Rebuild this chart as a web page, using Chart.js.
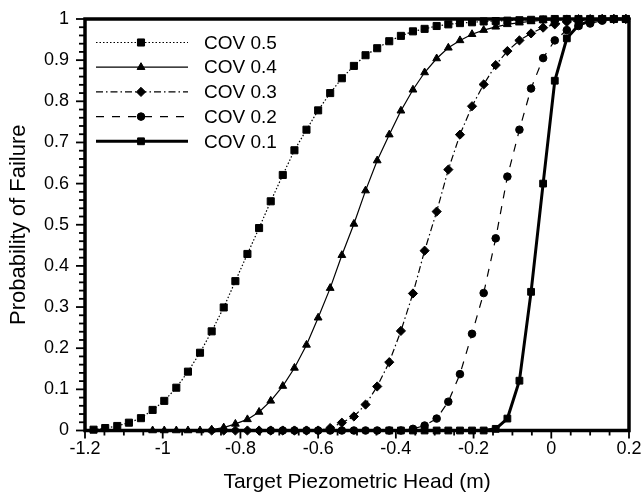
<!DOCTYPE html>
<html><head><meta charset="utf-8">
<script src="https://cdn.jsdelivr.net/npm/chart.js@4/dist/chart.umd.min.js"></script>
<style>html,body{margin:0;padding:0;background:#fff}</style>
</head><body>
<canvas id="c" width="644" height="493" style="display:block;width:644px;height:493px"></canvas>
<script>
// ---- data ----
const headX = [-1.178,-1.148,-1.117,-1.087,-1.056,-1.026,-0.996,-0.965,-0.935,-0.904,-0.874,-0.843,-0.813,-0.782,-0.752,-0.722,-0.691,-0.661,-0.630,-0.600,-0.569,-0.539,-0.508,-0.478,-0.448,-0.417,-0.387,-0.356,-0.326,-0.295,-0.265,-0.235,-0.204,-0.174,-0.143,-0.113,-0.082,-0.052,-0.021,0.009,0.040,0.070,0.100,0.131,0.161,0.192];
const cov05 = [0.002,0.006,0.011,0.019,0.030,0.050,0.072,0.104,0.143,0.189,0.241,0.299,0.363,0.429,0.492,0.557,0.621,0.681,0.731,0.778,0.820,0.856,0.886,0.912,0.929,0.946,0.959,0.970,0.976,0.983,0.987,0.990,0.992,0.994,0.995,0.996,0.997,0.998,0.999,1,1,1,1,1,1,1];
const cov04 = [null,null,null,null,null,0,0,0,0,0,0.002,0.007,0.016,0.027,0.045,0.072,0.108,0.152,0.208,0.274,0.346,0.426,0.502,0.583,0.656,0.719,0.777,0.828,0.870,0.904,0.930,0.948,0.963,0.973,0.981,0.987,0.991,0.994,0.997,0.998,0.999,1,1,1,1,1];
const cov03 = [null,null,null,null,null,null,null,null,null,null,0,0,0,0,0,0,0,0,0,0,0.006,0.019,0.034,0.063,0.107,0.166,0.242,0.333,0.437,0.532,0.634,0.719,0.788,0.841,0.888,0.922,0.948,0.965,0.979,0.987,0.993,0.996,0.998,1,1,1];
const cov02 = [null,null,null,null,null,null,null,null,null,null,null,null,null,null,null,0,0,0,0,0,0,0,0,0,0,0,0,0.004,0.012,0.029,0.070,0.137,0.235,0.334,0.467,0.617,0.731,0.831,0.905,0.948,0.973,0.983,0.989,0.996,1,1];
const cov01 = [null,null,null,null,null,null,null,null,null,null,null,null,null,null,null,null,null,null,null,null,null,null,null,null,null,0,0,0,0,0,0,0,0,0,0.004,0.029,0.121,0.337,0.600,0.850,0.953,0.985,0.995,1,1,1];
const seriesLabels = ['COV 0.5','COV 0.4','COV 0.3','COV 0.2','COV 0.1'];
const xTickValues = [-1.2,-1,-0.8,-0.6,-0.4,-0.2,0,0.2];
const yTickValues = [0,0.1,0.2,0.3,0.4,0.5,0.6,0.7,0.8,0.9,1];

function pts(ys){ const out=[]; ys.forEach((y,i)=>{ if(y!==null) out.push({x:headX[i], y:y}); }); return out; }

const FONT = '"Liberation Sans", Arial, Helvetica, sans-serif';
const styles = [
  {dash:[1.5,2], w:1.2, ps:'rect', r:5},
  {dash:[], w:1.2, ps:'triangle', r:4.5},
  {dash:[7,3,1.5,3], w:1.2, ps:'rectRot', r:4.6},
  {dash:[8,8], w:1.2, ps:'circle', r:3.8},
  {dash:[], w:3, ps:'rect', r:4.8}
];
const allY = [cov05,cov04,cov03,cov02,cov01];
const datasets = allY.map((ys,i)=>({
  label: seriesLabels[i],
  data: pts(ys),
  borderColor:'#000', backgroundColor:'#000',
  borderWidth: styles[i].w, borderDash: styles[i].dash,
  pointStyle: styles[i].ps, pointRadius: styles[i].r, pointHoverRadius: styles[i].r,
  pointBackgroundColor:'#000', pointBorderColor:'#000', pointBorderWidth:1,
  tension:0, clip:false, fill:false
}));

const decor = {
  id:'decor',
  beforeDatasetsDraw(chart){
    const ctx=chart.ctx, a=chart.chartArea, xs=chart.scales.x, ys=chart.scales.y;
    ctx.save();
    ctx.strokeStyle='#000'; ctx.setLineDash([]);
    // minor + major ticks
    ctx.lineWidth=1.8;
    for(let v=0; v<=1.0001; v+=0.02){
      const p=ys.getPixelForValue(v);
      const major = Math.abs(Math.round(v*10)-v*10)<1e-6;
      ctx.beginPath(); ctx.moveTo(a.left, p); ctx.lineTo(a.left-(major?9:6), p); ctx.stroke();
    }
    for(let v=-1.2; v<=0.2001; v+=0.05){
      const p=xs.getPixelForValue(v);
      const major = Math.abs(Math.round(v*5)-v*5)<1e-6;
      ctx.beginPath(); ctx.moveTo(p, a.bottom); ctx.lineTo(p, a.bottom+(major?8:5)); ctx.stroke();
    }
    ctx.lineWidth=3.5;
    ctx.strokeRect(a.left, a.top, a.right-a.left, a.bottom-a.top);
    ctx.restore();
  },
  afterDraw(chart){
    const ctx=chart.ctx, a=chart.chartArea;
    ctx.save();
    chart.data.datasets.forEach((ds,i)=>{
      const y = a.top + 23.5 + i*24.7;
      ctx.strokeStyle='#000'; ctx.fillStyle='#000';
      ctx.lineWidth=ds.borderWidth; ctx.setLineDash(ds.borderDash||[]);
      ctx.beginPath(); ctx.moveTo(a.left+11, y); ctx.lineTo(a.left+103, y); ctx.stroke();
      ctx.setLineDash([]); ctx.lineWidth=1;
      Chart.helpers.drawPoint(ctx, {pointStyle:ds.pointStyle, radius:ds.pointRadius, rotation:0, borderWidth:1}, a.left+56, y);
      ctx.font = '19px '+FONT; ctx.textBaseline='middle'; ctx.textAlign='left';
      ctx.fillText(ds.label, a.left+119, y+1);
    });
    ctx.restore();
  }
};

new Chart(document.getElementById('c'), {
  type:'line',
  data:{datasets},
  options:{
    responsive:false, animation:false, devicePixelRatio:1,
    layout:{padding:{left:0,right:15,top:19,bottom:0}},
    plugins:{legend:{display:false}, tooltip:{enabled:false}},
    scales:{
      x:{type:'linear', min:-1.2, max:0.2,
        afterBuildTicks(s){ s.ticks = xTickValues.map(v=>({value:v})); },
        afterFit(s){ s.height = 62.5; },
        grid:{display:false, drawTicks:true, tickLength:8},
        border:{display:false},
        ticks:{padding:0, color:'#000', font:{family:FONT,size:18}, maxRotation:0,
          callback:(v)=>String(Number(v.toFixed(2)))},
        title:{display:true, text:'Target Piezometric Head (m)', color:'#000',
          font:{family:FONT,size:21,lineHeight:1}, padding:{top:0,bottom:0}}
      },
      y:{type:'linear', min:0, max:1,
        afterBuildTicks(s){ s.ticks = yTickValues.map(v=>({value:v})); },
        afterFit(s){ s.width = 85; },
        grid:{display:false, drawTicks:true, tickLength:8},
        border:{display:false},
        ticks:{padding:8, color:'#000', font:{family:FONT,size:18},
          callback:(v)=>String(Number(v.toFixed(2)))},
        title:{display:true, text:'Probability of Failure', color:'#000',
          font:{family:FONT,size:22,lineHeight:1}, padding:{top:8,bottom:0}}
      }
    }
  },
  plugins:[decor]
});
</script>
</body></html>
